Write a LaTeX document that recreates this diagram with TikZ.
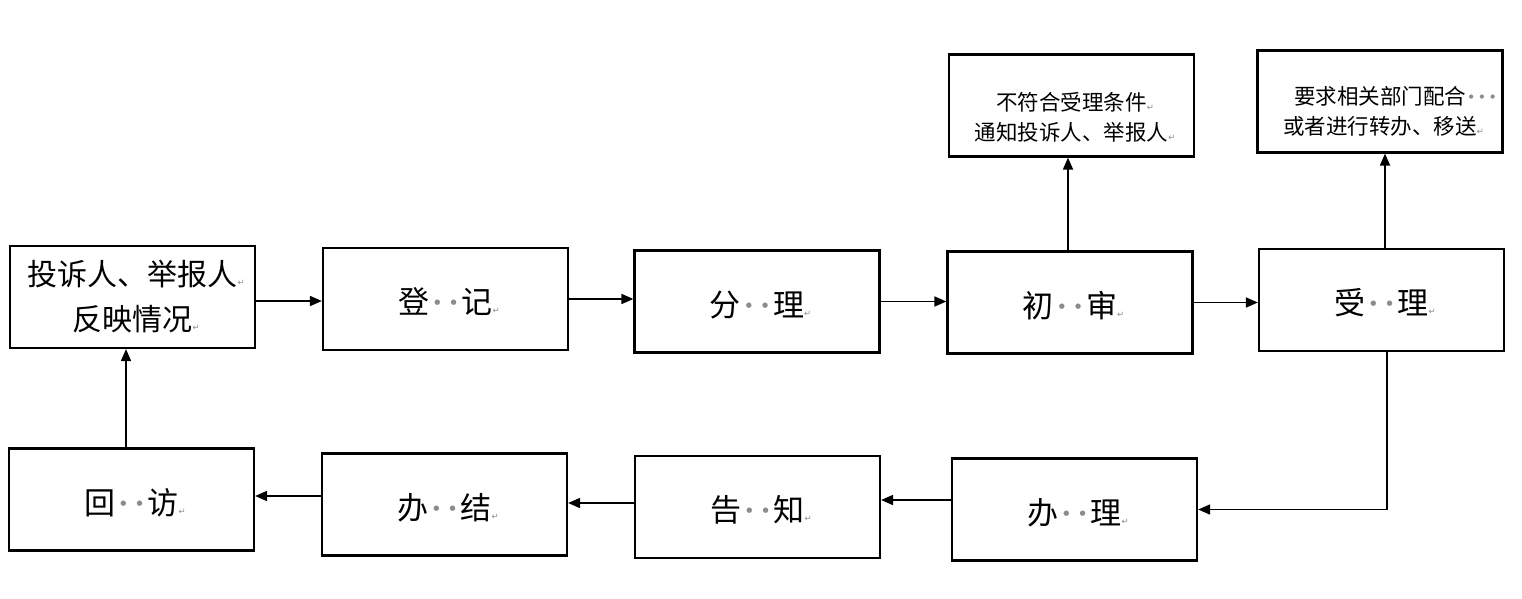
\documentclass[tikz,border=0pt]{standalone}
\usepackage{fontspec}
\newfontfamily\cjk{Noto Sans CJK SC}
\newfontfamily\dejavu{DejaVu Sans}
\usetikzlibrary{arrows.meta}
\definecolor{markgray}{HTML}{8C8C8C}
\newcommand{\gd}{\makebox[0.52em]{\raisebox{0.3em}{\dejavu\fontsize{7}{7}\selectfont\color{markgray}●}}}
\newcommand{\gds}{\makebox[0.5em]{\raisebox{0.3em}{\dejavu\fontsize{5.5}{5.5}\selectfont\color{markgray}●}}}
\newcommand{\ret}{\rlap{\dejavu\fontsize{8.5}{8.5}\selectfont\color{markgray}↵}}
\begin{document}
\begin{tikzpicture}[x=1pt,y=-1pt,
  box/.style={draw,line width=2.2pt,minimum width=245pt,minimum height=102pt,inner sep=0pt,align=center},
  big/.style={font=\cjk\fontsize{31}{31}\selectfont,text height=30.6pt,text depth=1pt},
  mid/.style={font=\cjk\fontsize{30}{45}\selectfont},
  sml/.style={font=\cjk\fontsize{21.5}{29.5}\selectfont,align=center},
  arr/.style={line width=1.7pt,-{Triangle[length=12pt,width=10pt]}}]
\useasboundingbox (0,0) rectangle (1522,599);
% top row
\node[box,mid] (n1) at (132.5,297) {投诉人、举报人\ret\\反映情况\ret};
\node[box,big] (n2) at (445.5,299) {登\gd\gd 记\ret};
\node[box,big] (n3) at (757,301.5) {分\gd\gd 理\ret};
\node[box,big] (n4) at (1070,302.5) {初\gd\gd 审\ret};
\node[box,big] (n5) at (1381.5,300) {受\gd\gd 理\ret};
% upper boxes
\node[box,label={[sml,anchor=center,yshift=-12pt]center:不符合受理条件\ret\\通知投诉人、举报人\ret}] (n6) at (1071.5,105.5) {};
\node[box,label={[sml,anchor=center,yshift=-10pt]center:要求相关部门配合\rlap{\gds\gds\gds}\\或者进行转办、移送\ret}] (n7) at (1380,101.5) {};
% bottom row
\node[box,big] (n8) at (131.5,499.5) {回\gd\gd 访\ret};
\node[box,big] (n9) at (444.5,504.5) {办\gd\gd 结\ret};
\node[box,big] (n10) at (757.5,507) {告\gd\gd 知\ret};
\node[box,big] (n11) at (1074.5,509.5) {办\gd\gd 理\ret};
% connectors
\draw[arr] ([yshift=-4pt]n1.east) -- ([yshift=-4pt]n1.east -| n2.west);
\draw[arr] (n2.east) -- (n2.east -| n3.west);
\draw[arr] (n3.east) -- (n3.east -| n4.west);
\draw[arr] (n4.east) -- (n4.east -| n5.west);
\draw[arr] ([xshift=-2pt]n4.north) -- ([xshift=-2pt]n4.north |- n6.south);
\draw[arr] ([xshift=3.5pt]n5.north) -- ([xshift=3.5pt]n5.north |- n7.south);
\draw[arr] ([xshift=5.5pt]n5.south) |- (n11.east);
\draw[arr] ([yshift=9.5pt]n11.west) -- ([yshift=9.5pt]n11.west -| n10.east);
\draw[arr] ([yshift=4pt]n10.west) -- ([yshift=4pt]n10.west -| n9.east);
\draw[arr] ([yshift=8.5pt]n9.west) -- ([yshift=8.5pt]n9.west -| n8.east);
\draw[arr] ([xshift=-5.5pt]n8.north) -- ([xshift=-5.5pt]n8.north |- n1.south);
\end{tikzpicture}
\end{document}
